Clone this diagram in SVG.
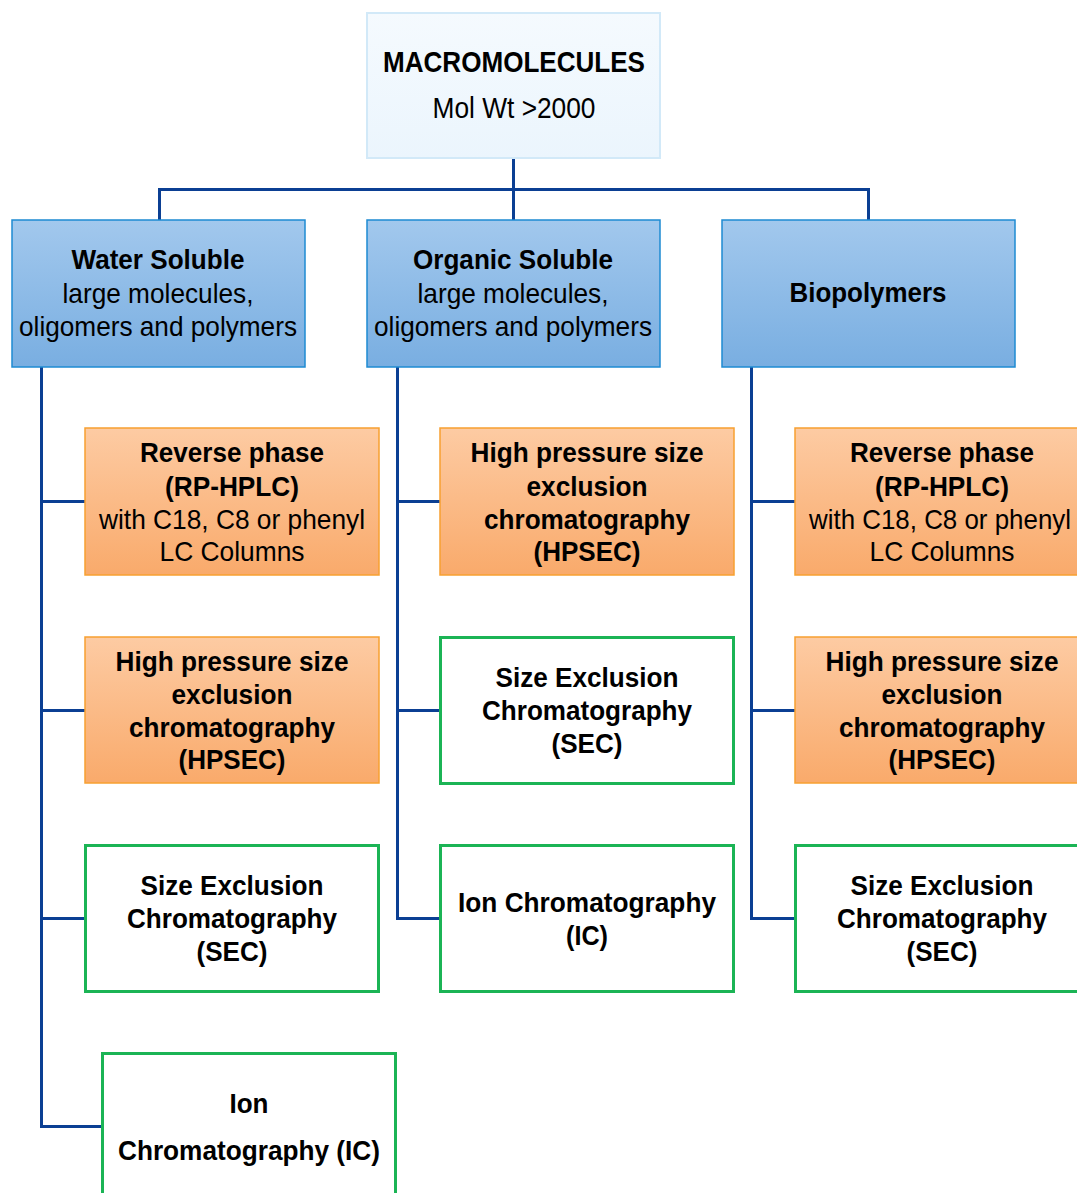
<svg xmlns="http://www.w3.org/2000/svg" width="1077" height="1193" viewBox="0 0 1077 1193">
  <defs>
    <linearGradient id="gTop" x1="0" y1="0" x2="0" y2="1">
      <stop offset="0" stop-color="#f5fafe"/>
      <stop offset="1" stop-color="#ebf5fd"/>
    </linearGradient>
    <linearGradient id="gBlue" x1="0" y1="0" x2="0" y2="1">
      <stop offset="0" stop-color="#a2c8ed"/>
      <stop offset="1" stop-color="#79aee1"/>
    </linearGradient>
    <linearGradient id="gOrange" x1="0" y1="0" x2="0" y2="1">
      <stop offset="0" stop-color="#fdcba3"/>
      <stop offset="1" stop-color="#f9aa6b"/>
    </linearGradient>
    <style>
      .top { fill: url(#gTop); stroke: #d2e9f8; stroke-width: 2; }
      .cat { fill: url(#gBlue); stroke: #1e8bd2; stroke-width: 1.5; }
      .hot { fill: url(#gOrange); stroke: #f7a031; stroke-width: 1.5; }
      .alt { fill: #ffffff; stroke: #1bb455; stroke-width: 3; }
      .wire { fill: none; stroke: #0b3f93; stroke-width: 3; }
      text { font-family: "Liberation Sans", Arial, sans-serif; fill: #000; text-anchor: middle; font-size: 28px; }
      .b { font-weight: bold; }
      .t { font-size: 30px; }
    </style>
  </defs>

  <!-- connectors -->
  <g id="connectors">
    <path class="wire" d="M513.5 158 V189.5 M159.5 220 V189.5 H868.5 V220 M513.5 189.5 V220"/>
    <path class="wire" d="M41.5 367 V1126.5 H101 M41.5 501.5 H85 M41.5 710.5 H85 M41.5 918.5 H85"/>
    <path class="wire" d="M397.5 367 V918.5 H440 M397.5 501.5 H440 M397.5 710.5 H440"/>
    <path class="wire" d="M751.5 367 V918.5 H795 M751.5 501.5 H795 M751.5 710.5 H795"/>
  </g>

  <!-- root -->
  <g id="macromolecules">
    <rect class="top" x="367" y="13" width="293" height="145"/>
    <text class="b t" x="514" y="72" textLength="262" lengthAdjust="spacingAndGlyphs">MACROMOLECULES</text>
    <text class="t" x="514" y="118" textLength="163" lengthAdjust="spacingAndGlyphs">Mol Wt &gt;2000</text>
  </g>

  <!-- categories -->
  <g id="water-soluble">
    <rect class="cat" x="12" y="220" width="293" height="147"/>
    <text class="b" x="158" y="269" textLength="173" lengthAdjust="spacingAndGlyphs">Water Soluble</text>
    <text x="158" y="303" textLength="191" lengthAdjust="spacingAndGlyphs">large molecules,</text>
    <text x="158" y="336" textLength="278" lengthAdjust="spacingAndGlyphs">oligomers and polymers</text>
  </g>
  <g id="organic-soluble">
    <rect class="cat" x="367" y="220" width="293" height="147"/>
    <text class="b" x="513" y="269" textLength="200" lengthAdjust="spacingAndGlyphs">Organic Soluble</text>
    <text x="513" y="303" textLength="191" lengthAdjust="spacingAndGlyphs">large molecules,</text>
    <text x="513" y="336" textLength="278" lengthAdjust="spacingAndGlyphs">oligomers and polymers</text>
  </g>
  <g id="biopolymers">
    <rect class="cat" x="722" y="220" width="293" height="147"/>
    <text class="b" x="868" y="302" textLength="157" lengthAdjust="spacingAndGlyphs">Biopolymers</text>
  </g>

  <!-- water soluble column -->
  <g id="ws-rp">
    <rect class="hot" x="85" y="428" width="294" height="147"/>
    <text class="b" x="232" y="462" textLength="184" lengthAdjust="spacingAndGlyphs">Reverse phase</text>
    <text class="b" x="232" y="496" textLength="134" lengthAdjust="spacingAndGlyphs">(RP-HPLC)</text>
    <text x="232" y="529" textLength="266" lengthAdjust="spacingAndGlyphs">with C18, C8 or phenyl</text>
    <text x="232" y="561" textLength="145" lengthAdjust="spacingAndGlyphs">LC Columns</text>
  </g>
  <g id="ws-hpsec">
    <rect class="hot" x="85" y="637" width="294" height="146"/>
    <text class="b" x="232" y="671" textLength="233" lengthAdjust="spacingAndGlyphs">High pressure size</text>
    <text class="b" x="232" y="704" textLength="121" lengthAdjust="spacingAndGlyphs">exclusion</text>
    <text class="b" x="232" y="737" textLength="206" lengthAdjust="spacingAndGlyphs">chromatography</text>
    <text class="b" x="232" y="769" textLength="107" lengthAdjust="spacingAndGlyphs">(HPSEC)</text>
  </g>
  <g id="ws-sec">
    <rect class="alt" x="85.5" y="845.5" width="293" height="146"/>
    <text class="b" x="232" y="895" textLength="183" lengthAdjust="spacingAndGlyphs">Size Exclusion</text>
    <text class="b" x="232" y="928" textLength="210" lengthAdjust="spacingAndGlyphs">Chromatography</text>
    <text class="b" x="232" y="961" textLength="71" lengthAdjust="spacingAndGlyphs">(SEC)</text>
  </g>
  <g id="ws-ic">
    <rect class="alt" x="102.5" y="1053.5" width="293" height="150"/>
    <text class="b" x="249" y="1113" textLength="39" lengthAdjust="spacingAndGlyphs">Ion</text>
    <text class="b" x="249" y="1160" textLength="262" lengthAdjust="spacingAndGlyphs">Chromatography (IC)</text>
  </g>

  <!-- organic soluble column -->
  <g id="os-hpsec">
    <rect class="hot" x="440" y="428" width="294" height="147"/>
    <text class="b" x="587" y="462" textLength="233" lengthAdjust="spacingAndGlyphs">High pressure size</text>
    <text class="b" x="587" y="496" textLength="121" lengthAdjust="spacingAndGlyphs">exclusion</text>
    <text class="b" x="587" y="529" textLength="206" lengthAdjust="spacingAndGlyphs">chromatography</text>
    <text class="b" x="587" y="561" textLength="107" lengthAdjust="spacingAndGlyphs">(HPSEC)</text>
  </g>
  <g id="os-sec">
    <rect class="alt" x="440.5" y="637.5" width="293" height="146"/>
    <text class="b" x="587" y="687" textLength="183" lengthAdjust="spacingAndGlyphs">Size Exclusion</text>
    <text class="b" x="587" y="720" textLength="210" lengthAdjust="spacingAndGlyphs">Chromatography</text>
    <text class="b" x="587" y="753" textLength="71" lengthAdjust="spacingAndGlyphs">(SEC)</text>
  </g>
  <g id="os-ic">
    <rect class="alt" x="440.5" y="845.5" width="293" height="146"/>
    <text class="b" x="587" y="912" textLength="258" lengthAdjust="spacingAndGlyphs">Ion Chromatography</text>
    <text class="b" x="587" y="945" textLength="42" lengthAdjust="spacingAndGlyphs">(IC)</text>
  </g>

  <!-- biopolymers column -->
  <g id="bp-rp">
    <rect class="hot" x="795" y="428" width="294" height="147"/>
    <text class="b" x="942" y="462" textLength="184" lengthAdjust="spacingAndGlyphs">Reverse phase</text>
    <text class="b" x="942" y="496" textLength="134" lengthAdjust="spacingAndGlyphs">(RP-HPLC)</text>
    <text x="940" y="529" textLength="262" lengthAdjust="spacingAndGlyphs">with C18, C8 or phenyl</text>
    <text x="942" y="561" textLength="145" lengthAdjust="spacingAndGlyphs">LC Columns</text>
  </g>
  <g id="bp-hpsec">
    <rect class="hot" x="795" y="637" width="294" height="146"/>
    <text class="b" x="942" y="671" textLength="233" lengthAdjust="spacingAndGlyphs">High pressure size</text>
    <text class="b" x="942" y="704" textLength="121" lengthAdjust="spacingAndGlyphs">exclusion</text>
    <text class="b" x="942" y="737" textLength="206" lengthAdjust="spacingAndGlyphs">chromatography</text>
    <text class="b" x="942" y="769" textLength="107" lengthAdjust="spacingAndGlyphs">(HPSEC)</text>
  </g>
  <g id="bp-sec">
    <rect class="alt" x="795.5" y="845.5" width="293" height="146"/>
    <text class="b" x="942" y="895" textLength="183" lengthAdjust="spacingAndGlyphs">Size Exclusion</text>
    <text class="b" x="942" y="928" textLength="210" lengthAdjust="spacingAndGlyphs">Chromatography</text>
    <text class="b" x="942" y="961" textLength="71" lengthAdjust="spacingAndGlyphs">(SEC)</text>
  </g>
</svg>
